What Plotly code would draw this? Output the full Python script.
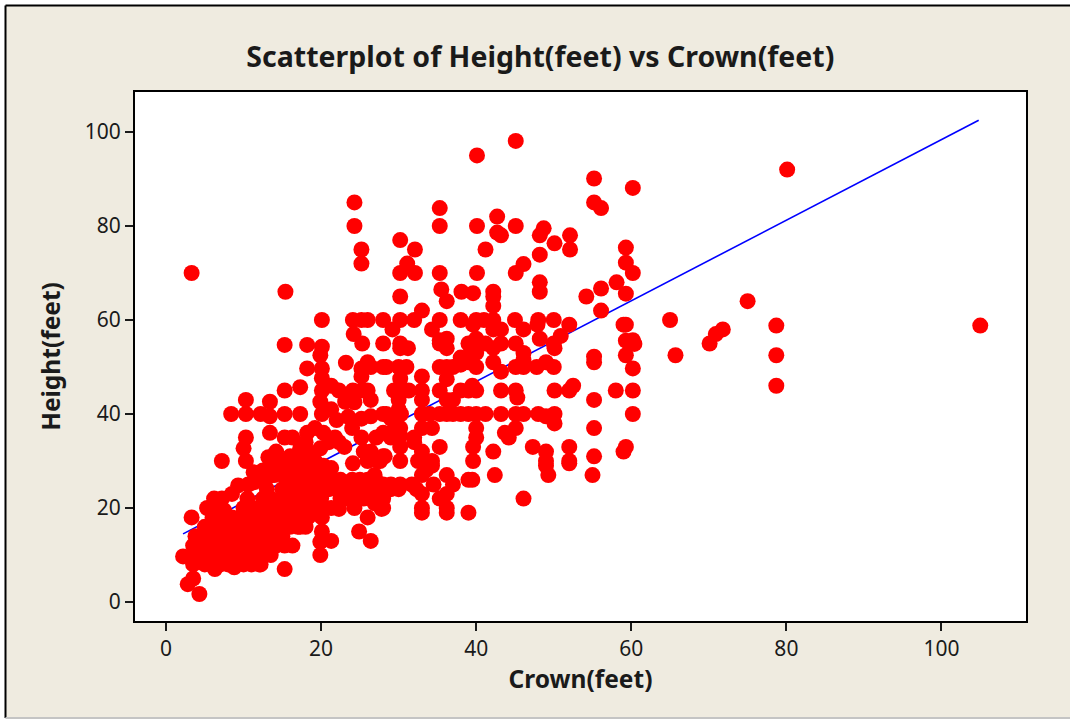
import plotly.graph_objects as go

# values, row by row (roughly from the top down)
crown_high = [45.1, 40.1, 55.2, 60.2, 80.1, 55.2, 56.1, 35.3, 35.3, 24.3, 24.3, 40.1, 42.7, 42.7, 43.2, 45.1, 48.7, 48.2,
              50.1, 52.1, 52.1, 30.2, 32.1, 41.2, 48.2, 59.3, 59.3, 60.2, 46.1, 45.1, 31.1, 30.2, 32.1, 35.3, 40.1,
              25.2, 25.2, 3.3, 48.2, 48.2, 58.1, 56.1, 59.3, 54.2, 30.2, 35.5, 36.2, 38.1, 39.6, 42.2, 42.2, 42.2,
              33.0, 56.1, 15.4, 75.0, 65.0, 78.7, 105.0, 71.8, 70.9, 70.1, 65.7, 78.7, 78.7]
height_high = [98.1, 95.0, 90.1, 88.1, 92.0, 85.0, 83.8, 83.8, 80.0, 85.0, 80.0, 80.0, 82.0, 78.6, 78.0, 80.0, 79.5, 78.0,
               76.3, 78.0, 75.0, 77.0, 75.0, 75.0, 73.9, 75.4, 72.2, 70.0, 71.9, 70.0, 72.0, 70.0, 70.0, 70.0, 70.0,
               75.0, 72.0, 70.0, 68.0, 66.0, 68.0, 66.7, 65.6, 65.0, 65.0, 66.5, 64.0, 66.0, 65.7, 66.0, 65.0, 63.0,
               62.0, 62.0, 66.0, 64.0, 60.0, 58.8, 58.8, 58.0, 57.0, 55.0, 52.5, 52.5, 46.0]

crown_mid = [20.1, 24.1, 25.2, 26.0, 28.0, 30.2, 32.0, 35.3, 38.0, 40.0, 41.0, 42.2, 45.0, 48.0, 50.0, 59.0,
             29.2, 34.3, 42.2, 43.2, 46.1, 47.9, 39.6, 52.0, 59.3, 50.9, 48.2, 59.3, 60.2, 60.4, 24.2, 25.3, 35.3, 36.2, 35.3, 36.2,
             39.0, 40.0, 39.4, 41.2, 42.2, 43.2, 45.1, 50.0, 50.1, 28.0, 30.2, 30.2, 31.2, 15.3, 18.2, 20.1, 19.9,
             55.2, 55.2, 59.3, 38.0, 39.0, 40.0, 46.1, 46.1, 42.2, 43.2, 49.0, 50.0, 60.2, 45.1, 46.1, 47.8,
             23.2, 18.2, 20.1, 20.1, 25.2, 26.0, 25.2, 26.4, 28.4, 28.0, 30.0, 31.0, 35.3, 36.2, 37.0, 38.0, 39.0, 40.0,
             36.2, 33.0, 30.2, 29.4, 30.2, 31.3, 33.0, 35.3, 38.0, 39.0, 39.5, 40.0, 43.2, 45.1, 45.3, 50.1, 52.0, 52.5,
             58.0, 60.2, 55.2, 36.2, 37.0, 33.0, 30.0, 30.0, 15.3, 17.3, 20.1, 21.3, 22.3, 24.1, 25.2, 26.0,
             19.9, 23.1, 24.3, 26.4, 10.3, 13.4]
height_mid = [60.0, 60.0, 60.0, 60.0, 60.0, 60.0, 60.0, 60.0, 60.0, 60.0, 60.0, 60.0, 60.0, 60.0, 60.0, 59.0,
              58.0, 58.0, 58.0, 58.0, 58.0, 59.0, 59.0, 59.0, 59.0, 56.6, 56.0, 55.6, 55.7, 54.9, 57.0, 55.0, 55.7, 56.0, 55.0, 54.0,
              55.0, 56.0, 54.0, 55.0, 54.0, 55.0, 55.0, 55.0, 54.0, 55.0, 55.0, 54.0, 54.0, 54.7, 54.7, 54.3, 52.5,
              52.2, 51.0, 52.5, 52.0, 52.0, 53.0, 53.0, 51.5, 51.0, 49.0, 51.0, 50.0, 49.7, 50.0, 50.0, 50.0,
              50.9, 49.7, 49.7, 47.6, 49.7, 51.0, 48.0, 50.0, 50.0, 50.0, 50.0, 50.0, 50.0, 50.0, 50.0, 50.5, 51.0, 50.0,
              47.4, 48.0, 47.5, 45.0, 45.0, 45.0, 45.0, 45.0, 45.0, 45.0, 46.0, 45.0, 45.0, 45.0, 43.5, 45.0, 45.0, 46.0,
              45.0, 45.0, 43.0, 43.0, 43.0, 43.0, 43.0, 41.0, 45.0, 45.7, 45.0, 46.0, 45.0, 45.0, 45.0, 45.0,
              42.6, 42.6, 42.5, 43.0, 43.0, 42.6]

crown_low = [28.0, 29.0, 30.3, 33.0, 34.0, 35.3, 36.2, 37.0, 38.0, 39.0, 40.0, 41.2, 43.2, 45.1, 46.1, 48.0, 49.0, 50.1, 50.1,
             60.2, 55.2, 34.3, 33.0, 30.2, 29.0, 30.2, 28.0, 40.0, 40.0, 45.1, 43.7, 44.2, 32.0, 32.0, 35.3, 30.2, 39.6,
             42.2, 47.3, 49.0, 49.0, 49.0, 49.3, 52.0, 52.0, 52.0, 59.3, 59.0, 55.2, 55.0, 28.0, 27.3, 30.2, 33.0, 32.5,
             34.3, 34.3, 33.5, 39.6, 33.0, 36.2, 42.4, 39.0, 39.5, 27.0, 28.0, 29.0, 30.2, 31.7, 32.3, 33.0, 34.5, 37.0,
             36.2, 35.3, 36.2, 36.2, 33.0, 33.0, 39.0, 46.1, 28.0,
             8.4, 10.3, 12.2, 13.4, 15.3, 17.3, 20.1, 21.3, 22.0, 23.5, 25.2, 26.4, 28.4, 10.3, 10.0, 13.4, 15.3, 16.3,
             18.2, 19.2, 20.3, 21.8, 22.3, 24.0, 25.2, 27.1, 29.0, 7.2, 10.3, 13.2, 14.2, 15.3, 16.6, 17.3, 18.3, 19.9,
             19.2, 20.3, 21.3, 24.1, 25.5, 26.4, 26.0, 28.2, 27.6, 11.3, 14.2, 9.3, 10.6, 11.4, 13.2, 15.3, 18.3, 20.1,
             22.3, 23.5, 25.0, 26.9, 29.0, 27.6, 16.0, 17.0, 19.0, 20.1, 12.5, 13.5, 15.0]
height_low = [40.0, 39.0, 40.0, 40.0, 40.0, 40.0, 40.0, 40.0, 40.0, 40.0, 40.0, 40.0, 40.0, 40.0, 40.0, 40.0, 39.5, 40.0, 38.0,
              40.0, 37.0, 37.0, 37.0, 37.0, 36.0, 35.4, 36.0, 37.0, 35.0, 37.0, 36.0, 35.0, 35.0, 34.0, 33.0, 33.0, 33.0,
              32.0, 33.0, 32.0, 30.0, 29.0, 27.0, 33.0, 30.0, 29.5, 33.0, 32.0, 31.0, 27.0, 31.0, 30.0, 30.0, 32.0, 30.0,
              30.0, 29.0, 28.0, 30.0, 27.0, 27.0, 27.0, 26.0, 26.0, 25.0, 25.0, 25.0, 25.0, 25.0, 24.0, 23.0, 25.0, 25.0,
              23.0, 22.0, 20.0, 19.0, 20.0, 19.0, 19.0, 22.0, 20.0,
              40.0, 40.0, 40.0, 39.5, 40.0, 40.0, 40.0, 41.0, 38.7, 39.4, 39.0, 39.5, 40.0, 35.0, 32.7, 36.0, 35.0, 35.0,
              36.0, 37.0, 36.0, 35.0, 34.0, 37.0, 35.0, 35.0, 35.0, 30.0, 30.0, 30.8, 32.0, 30.0, 29.5, 32.7, 32.0, 32.7,
              30.0, 29.0, 28.5, 29.5, 32.0, 32.0, 30.0, 31.0, 30.0, 27.6, 29.0, 24.8, 25.0, 25.5, 26.7, 26.7, 26.7, 25.0,
              25.0, 25.0, 25.0, 27.0, 24.5, 25.0, 27.5, 28.0, 28.0, 27.0, 28.0, 27.5, 28.0]

# the dense cloud at the lower left
crown_cloud = [6.2, 7.2, 8.5, 5.3, 3.3, 6.3, 20.1, 21.3, 22.3, 24.3, 27.8, 26.0, 26.9, 25.0, 20.1, 17.3, 18.3, 20.1, 19.9,
               21.3, 19.9, 24.9, 26.4, 15.3, 14.2, 15.3, 16.3, 12.2, 8.8, 6.3, 2.8, 3.5, 4.3, 2.2,
               3.5, 5.0, 6.0, 7.0, 8.0, 9.0, 10.0, 11.0, 12.0,
               3.5, 4.5, 5.5, 6.5, 7.5, 8.5, 9.5, 10.5, 11.5, 12.5, 13.5,
               3.5, 4.5, 5.0, 6.0, 7.0, 8.0, 9.0, 10.0, 11.0, 12.0, 13.0, 14.0,
               3.8, 4.8, 6.0, 7.0, 8.0, 9.0, 10.0, 11.0, 12.0, 13.0, 14.0, 15.0,
               5.0, 6.0, 7.0, 8.0, 9.0, 10.0, 11.0, 12.0, 13.0, 14.0, 15.0, 16.0, 17.0, 18.0,
               6.0, 7.0, 8.5, 9.5, 10.5, 11.5, 12.5, 13.5, 14.5, 15.5, 16.5, 17.5,
               6.5, 7.5, 10.0, 11.0, 12.0, 13.0, 14.0, 15.0, 16.0, 17.0, 18.0, 19.0,
               10.5, 12.5, 13.5, 15.0, 16.0, 17.0, 18.0, 19.0, 20.0,
               13.0, 15.0, 16.0, 17.0, 18.0, 19.0, 20.0, 21.0, 22.0, 23.0, 24.0, 25.0, 26.0, 27.0, 28.0, 29.0, 30.0,
               22.5, 23.5, 24.5, 25.5, 27.0, 28.0, 21.5, 22.5, 24.0, 25.0, 26.0, 27.0,
               12.0, 13.0, 14.0, 15.0, 16.0, 17.0, 18.0, 19.0, 17.0, 19.0, 16.0, 16.0, 18.0, 21.0, 23.0]
height_cloud = [22.0, 22.0, 23.0, 20.0, 18.0, 19.0, 20.0, 20.0, 19.8, 20.0, 19.8, 18.0, 21.0, 22.0, 18.0, 16.0, 18.0, 15.0, 12.8,
                13.0, 10.0, 15.0, 13.0, 7.0, 12.0, 12.0, 12.0, 8.0, 7.4, 7.0, 3.8, 5.0, 1.7, 9.7,
                8.0, 8.0, 8.0, 8.0, 8.0, 8.0, 8.0, 8.0, 8.0,
                10.0, 10.0, 10.0, 10.0, 10.0, 10.0, 10.0, 10.0, 10.0, 10.0, 10.0,
                12.0, 12.0, 12.0, 12.0, 12.0, 12.0, 12.0, 12.0, 12.0, 12.0, 12.0, 12.0,
                14.0, 14.0, 14.0, 14.0, 14.0, 14.0, 14.0, 14.0, 14.0, 14.0, 14.0, 14.0,
                16.0, 16.0, 16.0, 16.0, 16.0, 16.0, 16.0, 16.0, 16.0, 16.0, 16.0, 16.0, 16.0, 16.0,
                18.0, 18.0, 18.0, 18.0, 18.0, 18.0, 18.0, 18.0, 18.0, 18.0, 18.0, 18.0,
                19.5, 19.5, 20.0, 20.0, 20.0, 20.0, 20.0, 20.0, 20.0, 20.0, 20.0, 20.0,
                22.0, 22.0, 22.0, 22.0, 22.0, 22.0, 22.0, 22.0, 22.0,
                24.0, 24.0, 24.0, 24.0, 24.0, 24.0, 24.0, 24.0, 24.0, 24.0, 24.0, 24.0, 24.0, 24.0, 24.0, 24.0, 24.0,
                22.0, 22.0, 22.0, 22.0, 22.0, 22.0, 26.0, 26.0, 26.0, 26.0, 26.0, 26.0,
                26.0, 28.0, 27.0, 28.0, 27.0, 30.0, 29.0, 28.0, 26.0, 26.0, 24.0, 31.0, 34.0, 34.0, 33.0]

fit_crown = [2.2, 104.8]
fit_height = [14.5, 102.5]

x_ticks = [0, 20, 40, 60, 80, 100]
y_ticks = [0, 20, 40, 60, 80, 100]

BG = "#EFEBE0"
INK = "#1a1a1a"
FONT = "Noto Sans"

crown = crown_high + crown_mid + crown_low + crown_cloud
height = height_high + height_mid + height_low + height_cloud

fig = go.Figure()
fig.add_trace(go.Scatter(x=fit_crown, y=fit_height, mode="lines", line=dict(color="#0000FF", width=1.6)))
fig.add_trace(go.Scatter(x=crown, y=height, mode="markers", marker=dict(color="#FF0000", size=16, line=dict(width=0))))

axis_style = dict(
    showgrid=False, zeroline=False, showline=True, mirror=True, linecolor="black", linewidth=2,
    ticks="outside", ticklen=8, tickwidth=2, tickcolor=INK,
    tickfont=dict(family=FONT, size=21, color=INK),
)

# frame of the tan panel, in fractions of the plot area
left = -129.5 / 891
top = 1 + 86.5 / 529
bottom = -97 / 529

fig.update_layout(
    width=1070,
    height=719,
    showlegend=False,
    paper_bgcolor="white",
    plot_bgcolor="white",
    margin=dict(l=135, r=44, t=92, b=98, autoexpand=False),
    font=dict(family=FONT, color=INK),
    title=dict(text="<b>Scatterplot of Height(feet) vs Crown(feet)</b>", x=0.505, y=0.92, xanchor="center", yanchor="middle",
               font=dict(family=FONT, size=28.5, color=INK)),
    xaxis=dict(range=[-4.0, 110.9], tickvals=x_ticks,
               title=dict(text="<b>Crown(feet)</b>", standoff=8, font=dict(family=FONT, size=24.5, color=INK)), **axis_style),
    yaxis=dict(range=[-4.04, 108.5], tickvals=y_ticks,
               title=dict(text="<b>Height(feet)</b>", standoff=17, font=dict(family=FONT, size=24.5, color=INK)), **axis_style),
    shapes=[
        dict(type="rect", xref="paper", yref="paper", layer="below", x0=left, x1=1.1, y0=bottom, y1=top,
             fillcolor=BG, line=dict(width=0)),
        dict(type="rect", xref="paper", yref="paper", layer="below", x0=0, x1=1, y0=0, y1=1,
             fillcolor="white", line=dict(width=0)),
        dict(type="line", xref="paper", yref="paper", x0=left, x1=1.1, y0=top, y1=top, line=dict(color="black", width=2)),
        dict(type="line", xref="paper", yref="paper", x0=left, x1=left, y0=bottom, y1=top, line=dict(color="black", width=2)),
        dict(type="line", xref="paper", yref="paper", x0=left, x1=1.1, y0=bottom, y1=bottom, line=dict(color="#c4c4c4", width=2)),
    ],
)

fig.write_html("out.html", config=dict(displayModeBar=False),
               post_script="document.body.style.margin='0';document.body.style.overflow='hidden';")
